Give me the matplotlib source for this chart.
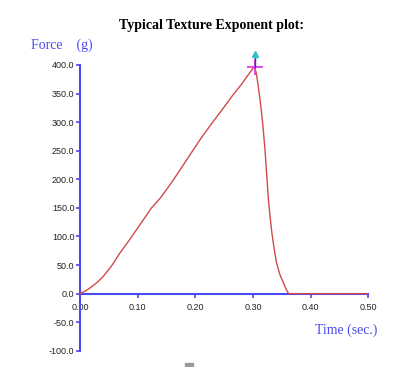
import matplotlib
matplotlib.use("Agg")
import matplotlib.pyplot as plt
from matplotlib.patches import Rectangle

# Force vs time
time_s = [0.0, 0.01, 0.02, 0.03, 0.04, 0.055, 0.069, 0.085, 0.098, 0.111, 0.124,
          0.139, 0.15, 0.162, 0.185, 0.208, 0.228, 0.249, 0.265, 0.28, 0.292,
          0.30, 0.303, 0.306, 0.309, 0.3125, 0.317, 0.321, 0.324, 0.327, 0.33,
          0.333, 0.337, 0.341, 0.347, 0.353, 0.358, 0.362, 0.50]
force_g = [0.0, 5.0, 12.0, 20.0, 30.0, 49.0, 71.0, 93.0, 112.0, 131.0, 150.0,
           167.0, 182.0, 199.0, 234.0, 269.0, 297.0, 325.0, 347.0, 366.0, 383.0,
           394.0, 397.0, 385.0, 365.0, 339.0, 298.0, 252.0, 207.0, 164.0, 133.0,
           106.0, 78.0, 54.0, 33.0, 19.0, 7.0, 0.0, 0.0]
peak_t, peak_f = 0.303, 397.0

x_ticks = [0.0, 0.1, 0.2, 0.3, 0.4, 0.5]
y_ticks = [-100, -50, 0, 50, 100, 150, 200, 250, 300, 350, 400]

blue = "#4a4af0"
red = "#d24a4a"

fig = plt.figure(figsize=(4.15, 3.67), dpi=100)
ax = fig.add_axes([0.193, 0.044, 0.694, 0.779])

ax.plot(time_s, force_g, color=red, lw=1.0, zorder=3)

# peak marker: magenta cross with a blue stem and cyan arrow head
ax.plot([peak_t], [peak_f], marker="+", color="#e040e0", ms=11, mew=1.3,
        zorder=4, clip_on=False)
ax.plot([peak_t, peak_t], [peak_f, peak_f + 22], color="#3030c0", lw=1.0,
        zorder=4, clip_on=False)
ax.plot([peak_t], [peak_f + 22], marker="^", color="#30c0c0", ms=4,
        zorder=5, clip_on=False)

ax.set_xlim(0, 0.5)
ax.set_ylim(-100, 400)
ax.spines["top"].set_visible(False)
ax.spines["right"].set_visible(False)
ax.spines["left"].set_color(blue)
ax.spines["bottom"].set_color(blue)
ax.spines["left"].set_linewidth(1.5)
ax.spines["bottom"].set_linewidth(1.5)
ax.spines["bottom"].set_position(("data", 0))

ax.set_xticks(x_ticks)
ax.set_xticklabels([f"{v:.2f}" for v in x_ticks])
ax.set_yticks(y_ticks)
ax.set_yticklabels([f"{v:.1f}" for v in y_ticks])
ax.tick_params(colors=blue, labelcolor="#222222", length=3, width=1.2,
               labelsize=6.5)
for lab in ax.get_xticklabels() + ax.get_yticklabels():
    lab.set_fontfamily("Liberation Sans")
ax.tick_params(axis="y", pad=1)

fig.text(0.51, 0.93, "Typical Texture Exponent plot:", ha="center", va="center",
         fontsize=10, fontweight="bold", family="Liberation Serif")
fig.text(0.075, 0.877, "Force    (g)", ha="left", va="center", fontsize=10,
         color=blue, family="Liberation Serif")
fig.text(0.91, 0.10, "Time (sec.)", ha="right", va="center", fontsize=10,
         color=blue, family="Liberation Serif")

fig.patches.append(Rectangle((0.446, 0.0), 0.018, 0.01, transform=fig.transFigure,
                             color="#999999", figure=fig))

fig.savefig("out.png", dpi=100)
